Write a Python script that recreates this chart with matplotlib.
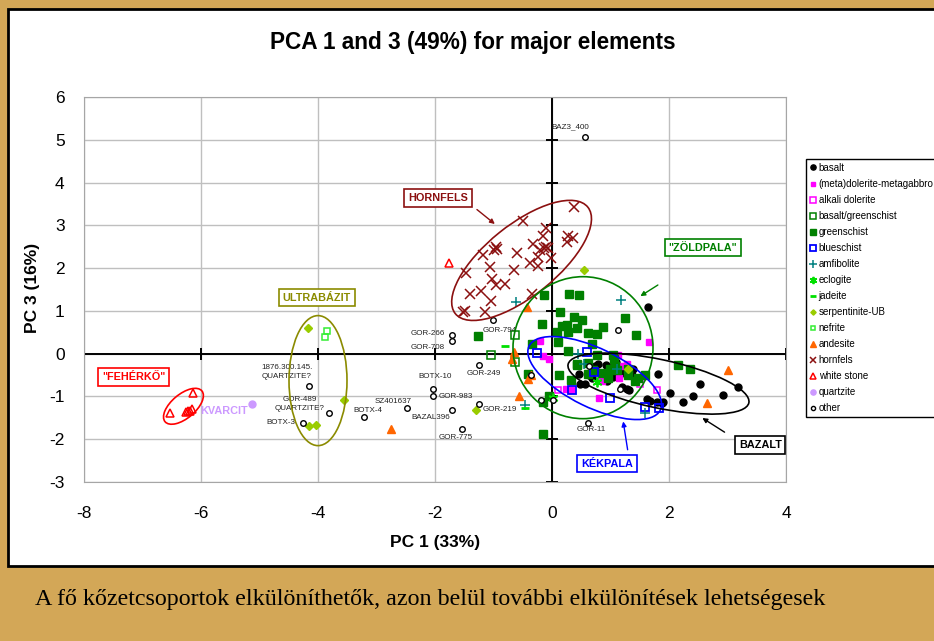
import matplotlib
matplotlib.use("Agg")
import matplotlib.pyplot as plt
import matplotlib.transforms as mtransforms
from matplotlib.patches import Ellipse, Rectangle
from matplotlib.lines import Line2D

plt.rcParams["font.family"] = ["Liberation Sans", "DejaVu Sans"]
plt.rcParams["axes.unicode_minus"] = False

# ---- data (PC1, PC3) ----
basalt_x = [1.64, 1.81, 2.53, 3.18, 2.02, 2.41, 2.92, 2.24, 1.90, 1.62, 1.68, 1.20, 1.28, 1.32,
            0.46, 0.56, 0.48, 0.74, 0.79, 0.74, 0.99, 0.94, 1.25, 1.38, 1.37, 1.16, 0.91, 0.63,
            1.79, 1.88, 0.92, 1.05, 0.68, 1.10]
basalt_y = [1.10, -0.47, -0.70, -0.79, -0.93, -0.98, -0.96, -1.12, -1.12, -1.05, -1.10, -0.79, -0.82, -0.86,
            -0.47, -0.72, -0.70, -0.28, -0.23, -0.40, -0.33, -0.63, -0.44, -0.37, -0.49, -0.47, -0.47, -0.49,
            -1.14, -1.16, -0.26, -0.55, -0.58, -0.20]

metadol_x = [-0.21, -0.15, -0.05, 1.66, 1.13, 1.20, 1.28, 0.85, 1.15, 0.80, 0.24, 0.32]
metadol_y = [0.30, -0.05, -0.12, 0.28, -0.02, -0.28, -0.23, -0.65, -0.56, -1.03, -0.82, -0.84]

alkdol_x = [0.10, 1.50, 1.79]
alkdol_y = [-0.84, -0.72, -0.84]

bgs_x = [-0.63, -1.04, -0.63]
bgs_y = [0.44, -0.02, -0.19]

greensch_x = [-0.14, 0.29, 0.46, 0.14, 0.38, 0.51, 1.25, -0.17, 0.17, 0.26, 0.43, 0.87, 0.09, 0.27,
              0.61, 0.77, 1.44, -1.26, -0.34, 0.10, 0.68, 0.27, 0.77, 1.04, 0.43, 0.61, 1.06, 1.07,
              0.99, 1.11, 1.30, 1.47, 1.42, 1.30, 0.61, 0.43, 0.32, 0.12, -0.41, -0.15, -0.05, 2.15,
              2.36, -0.15, 0.96, 1.59, 0.85, 0.70]
greensch_y = [1.36, 1.40, 1.38, 0.98, 0.86, 0.79, 0.84, 0.70, 0.65, 0.68, 0.61, 0.63, 0.51, 0.51,
              0.49, 0.47, 0.44, 0.42, 0.23, 0.28, 0.23, 0.07, -0.02, -0.02, -0.23, -0.21, -0.12, -0.28,
              -0.35, -0.38, -0.37, -0.58, -0.63, -0.51, -0.47, -0.26, -0.61, -0.49, -0.47, -1.14, -0.98, -0.26,
              -0.35, -1.87, -0.58, -0.51, -0.45, -0.38]

bluesch_x = [-0.26, 0.60, 0.72, 0.34, 0.99, 1.59, 1.83]
bluesch_y = [0.02, 0.05, -0.44, -0.84, -1.03, -1.24, -1.26]

amfib_x = [-0.62, 1.18, 0.44, -0.47, 1.59, 1.11, 0.55]
amfib_y = [1.21, 1.26, 0.00, -1.19, -1.38, -0.35, -0.23]

eclog_x = [0.77, 0.02]
eclog_y = [-0.67, -1.03]

jade_x = [-0.80, -0.46]
jade_y = [0.19, -1.26]

serp_x = [-4.17, -3.56, -4.15, -4.03, -1.30, 0.55, 1.30]
serp_y = [0.61, -1.08, -1.68, -1.66, -1.31, 1.96, -0.35]

nefrite_x = [-3.85, -3.88]
nefrite_y = [0.54, 0.38]

andes_x = [-2.75, -0.56, -0.65, -0.68, -0.41, -0.43, 3.01, 2.65, -0.36]
andes_y = [-1.76, -0.98, 0.03, -0.12, -0.59, 1.08, -0.38, -1.16, -0.49]

hornf_x = [0.38, -0.50, -0.10, 0.27, 0.36, 0.26, -0.15, -0.32, -0.96, -0.94, -0.99, -0.10, -0.07,
           -0.21, -0.14, -0.60, -1.18, -0.24, -0.02, -0.38, -0.24, -1.06, -0.65, -1.47, -1.03, -0.96,
           -0.80, -1.40, -1.21, -0.34, -1.04, -1.52, -1.49, -1.15]
hornf_y = [3.43, 3.11, 2.94, 2.76, 2.71, 2.62, 2.76, 2.57, 2.50, 2.45, 2.43, 2.50, 2.48,
           2.43, 2.48, 2.36, 2.31, 2.27, 2.24, 2.13, 2.06, 2.03, 1.96, 1.89, 1.75, 1.61,
           1.64, 1.40, 1.47, 1.40, 1.24, 0.98, 1.00, 0.98]

white_x = [-6.14, -6.53, -6.19, -6.16, -6.22, -6.25, -1.76]
white_y = [-0.93, -1.38, -1.33, -1.30, -1.35, -1.36, 2.13]

quartz_x = [-5.13]
quartz_y = [-1.17]

other_x = [0.56, -1.71, -1.71, -1.01, -1.25, -2.03, -2.03, -1.25, -1.71, -1.54, -2.48, -3.21,
           -4.15, -3.81, -4.26, 0.62, 1.13, -0.19, -0.36, 0.02, 0.64, 1.16]
other_y = [5.07, 0.44, 0.30, 0.79, -0.26, -0.82, -1.00, -1.17, -1.31, -1.75, -1.26, -1.49,
           -0.75, -1.38, -1.61, -1.61, 0.56, -1.08, -0.49, -1.08, -0.28, -0.82]

# sample labels for "other" points
sample_names = ["BAZ3_400", "GOR-266", "GOR-708", "GOR-794", "GOR-249", "BOTX-10", "GOR-983",
                "GOR-219", "BAZAL396", "GOR-775", "SZ401637", "BOTX-4",
                "1876.300.145.\nQUARTZITE?", "GOR-489\nQUARTZITE?", "BOTX-3", "GOR-11"]
name_x = [0.32, -2.12, -2.12, -0.89, -1.16, -2.00, -1.64, -0.89, -2.07, -1.64, -2.72, -3.15,
          -4.53, -4.31, -4.63, 0.67]
name_y = [5.30, 0.47, 0.14, 0.54, -0.47, -0.54, -1.00, -1.31, -1.50, -1.96, -1.12, -1.33,
          -0.43, -1.18, -1.61, -1.78]

# ---- figure ----
W, H = 934, 641
fig = plt.figure(figsize=(W / 100, H / 100), dpi=100)
fig.patch.set_facecolor("#D3A757")
fig.patches.append(Rectangle((8 / W, 1 - 566 / H), 1.2, (566 - 9) / H, transform=fig.transFigure,
                             fc="white", ec="black", lw=2, zorder=-5))

ax = fig.add_axes([84 / W, 1 - 482 / H, (786 - 84) / W, (482 - 97) / H])
ax.set_xlim(-8, 4)
ax.set_ylim(-3, 6)
ax.set_xticks(range(-8, 5, 2))
ax.set_yticks(range(-3, 7))
ax.grid(True, color="#BFBFBF", lw=1)
ax.set_axisbelow(True)
for s in ax.spines.values():
    s.set_color("#A6A6A6")
ax.tick_params(length=0, labelsize=12.5, pad=14)
ax.tick_params(axis="x", pad=17)

ax.axhline(0, color="black", lw=1.4, zorder=1)
ax.axvline(0, color="black", lw=1.4, zorder=1)
ax.plot(list(range(-8, 5, 2)), [0] * 7, ls="none", marker="|", ms=9, mew=1.4, color="black", zorder=1)
ax.plot([0] * 10, list(range(-3, 7)), ls="none", marker="_", ms=9, mew=1.4, color="black", zorder=1)

fig.text(473 / W, 1 - 42 / H, "PCA 1 and 3 (49%) for major elements",
         fontsize=16.3, fontweight="bold", ha="center", va="center")
fig.text(435 / W, 1 - 543 / H, "PC 1 (33%)", fontsize=12.5, fontweight="bold", ha="center", va="center")
fig.text(32 / W, 1 - 288 / H, "PC 3 (16%)", fontsize=12.5, fontweight="bold", ha="center", va="center",
         rotation=90)

GREEN = "#008000"
series = [
    ("basalt", basalt_x, basalt_y, dict(marker="o", ms=5, color="black", mec="black")),
    ("(meta)dolerite-metagabbro", metadol_x, metadol_y, dict(marker="s", ms=4.5, color="#FF00FF", mec="#FF00FF")),
    ("alkali dolerite", alkdol_x, alkdol_y, dict(marker="s", ms=5, mfc="none", mec="#FF00FF", mew=1.1)),
    ("basalt/greenschist", bgs_x, bgs_y, dict(marker="s", ms=5.5, mfc="none", mec=GREEN, mew=1.1)),
    ("greenschist", greensch_x, greensch_y, dict(marker="s", ms=6, color=GREEN, mec=GREEN)),
    ("blueschist", bluesch_x, bluesch_y, dict(marker="s", ms=5.5, mfc="none", mec="#0000FF", mew=1.3)),
    ("amfibolite", amfib_x, amfib_y, dict(marker="+", ms=7, color="#008080", mew=1.1)),
    ("eclogite", eclog_x, eclog_y, dict(marker=(6, 2, 0), ms=7, color="#00E000", mew=1.3)),
    ("jadeite", jade_x, jade_y, dict(marker="_", ms=6, color="#00E000", mew=2)),
    ("serpentinite-UB", serp_x, serp_y, dict(marker="D", ms=3.6, color="#99CC00", mec="#99CC00")),
    ("nefrite", nefrite_x, nefrite_y, dict(marker="s", ms=4, mfc="none", mec="#33EE33", mew=1.1)),
    ("andesite", andes_x, andes_y, dict(marker="^", ms=5.5, color="#FF6600", mec="#FF6600")),
    ("hornfels", hornf_x, hornf_y, dict(marker="x", ms=6.5, color="#8B1010", mew=1.1)),
    ("white stone", white_x, white_y, dict(marker="^", ms=6, mfc="none", mec="#FF0000", mew=1.1)),
    ("quartzite", quartz_x, quartz_y, dict(marker="o", ms=5, color="#CC99FF", mec="#CC99FF")),
    ("other", other_x, other_y, dict(marker="o", ms=4, mfc="white", mec="black", mew=1)),
]
handles = []
for name, xs, ys, st in series:
    ax.plot(xs, ys, ls="none", zorder=3, **st)
    hs = dict(st)
    hs["ms"] = st["ms"] * 0.75
    handles.append(Line2D([], [], ls="none", label=name, **hs))

for t, x, y in zip(sample_names, name_x, name_y):
    ax.text(x, y, t, fontsize=5.8, ha="center", va="center", color="#222222", linespacing=1.3, zorder=4)


def ring(cx, cy, a, b, ang, color):
    # semi-axes a, b in pixels, centre in data units
    tr = fig.dpi_scale_trans + mtransforms.ScaledTranslation(cx, cy, ax.transData)
    ax.add_patch(Ellipse((0, 0), 2 * a / 100, 2 * b / 100, angle=ang, transform=tr,
                         fill=False, ec=color, lw=1.2, zorder=5))


def tag(x, y, text, color, src=None, dst=None):
    ax.text(x, y, text, fontsize=7.8, fontweight="bold", color=color, ha="center", va="center",
            zorder=6, bbox=dict(boxstyle="square,pad=0.35", fc="white", ec=color, lw=1.2))
    if src is not None:
        ax.annotate("", xy=dst, xytext=src, zorder=6,
                    arrowprops=dict(arrowstyle="-|>", color=color, lw=1, mutation_scale=7))


ring(-0.52, 2.18, 85, 35.6, 38.8, "#8B1010")
ring(0.53, 0.14, 71, 70, 90, GREEN)
ring(0.73, -0.57, 73, 29.4, -26, "#0000FF")
ring(1.82, -0.70, 92.4, 24.2, -12, "black")
ring(-4.0, -0.63, 65, 29, 90, "#8B8B00")
ring(-6.30, -1.23, 24, 12, 40, "#FF0000")

tag(-1.95, 3.64, "HORNFELS", "#8B1010", (-1.32, 3.41), (-0.94, 2.99))
tag(2.58, 2.48, '"ZÖLDPALA"', GREEN, (1.85, 1.64), (1.47, 1.31))
tag(0.94, -2.57, "KÉKPALA", "#0000FF", (1.30, -2.31), (1.21, -1.52))
tag(3.56, -2.13, "BAZALT", "black", (2.99, -1.87), (2.53, -1.47))
tag(-4.02, 1.31, "ULTRABÁZIT", "#8B8B00")
tag(-7.15, -0.54, '"FEHÉRKŐ"', "#FF0000")
ax.text(-6.02, -1.35, "KVARCIT", fontsize=7.8, fontweight="bold", color="#CC99FF", ha="left", va="center")

leg = fig.legend(handles=handles, loc="upper left", bbox_to_anchor=(806 / W, 1 - 159 / H),
                 fontsize=7, frameon=True, fancybox=False, edgecolor="black", framealpha=1,
                 handlelength=0.6, handletextpad=0.3, labelspacing=0.62, borderpad=0.4,
                 borderaxespad=0)
leg.get_frame().set_linewidth(1)

fig.text(35 / W, 1 - 600 / H,
         "A fő kőzetcsoportok elkülöníthetők, azon belül további elkülönítések lehetségesek",
         fontsize=17.3, family="Liberation Serif", ha="left", va="center")

fig.savefig("out.png", dpi=100, facecolor=fig.get_facecolor())
